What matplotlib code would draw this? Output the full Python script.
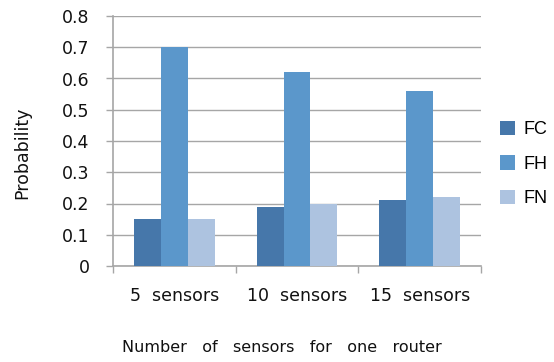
import numpy as np
import matplotlib.pyplot as plt

# --- DATA ---
categories = ['5  sensors', '10  sensors', '15  sensors']
series_names = ['FC', 'FH', 'FN']
fc_values = [0.15, 0.19, 0.21]
fh_values = [0.70, 0.62, 0.56]
fn_values = [0.15, 0.20, 0.22]

COLORS = ['#4677AA', '#5B97CB', '#ADC3E0']
GRID_COLOR = '#A6A6A6'

fig = plt.figure(figsize=(5.54, 3.62), dpi=100)
ax = fig.add_axes([113 / 554, 1 - 266 / 362, 368 / 554, 250 / 362])

x = np.arange(len(categories))
bar_w = 0.22
for i, (vals, name) in enumerate(zip([fc_values, fh_values, fn_values], series_names)):
    ax.bar(x + (i - 1) * bar_w, vals, width=bar_w, color=COLORS[i], label=name,
           zorder=3, linewidth=0)

ax.set_xlim(-0.5, len(categories) - 0.5)
ax.set_ylim(0, 0.8)
ax.set_yticks(np.arange(0, 0.81, 0.1))
ax.set_yticklabels(['0'] + [f'{v:.1f}' for v in np.arange(0.1, 0.81, 0.1)])
ax.yaxis.grid(True, color=GRID_COLOR, linewidth=1.0, zorder=0)

# category labels in the middle, tick marks on the category boundaries
ax.set_xticks(x)
ax.set_xticklabels(categories)
ax.set_xticks(np.arange(-0.5, len(categories), 1.0), minor=True)
ax.tick_params(axis='x', which='major', length=0, pad=15, labelsize=12.5, labelcolor='#111111')
ax.tick_params(axis='x', which='minor', length=5, width=1, color=GRID_COLOR, direction='out')
ax.tick_params(axis='y', length=5, width=1, color=GRID_COLOR, pad=12, labelsize=12.5, labelcolor='#111111')

for side in ['top', 'right']:
    ax.spines[side].set_visible(False)
for side in ['left', 'bottom']:
    ax.spines[side].set_color(GRID_COLOR)
    ax.spines[side].set_linewidth(1.2)

fig.text(22 / 554, 1 - 153 / 362, 'Probability', rotation=90, ha='center', va='center',
         fontsize=12.5, color='#111111')
fig.text(282 / 554, 1 - 348 / 362, 'Number   of   sensors   for   one   router', ha='center',
         va='center', fontsize=11.5, color='#111111')

fig.legend(loc='center left', bbox_to_anchor=(500 / 554, 1 - 164 / 362), frameon=False,
           borderaxespad=0, borderpad=0,
           handlelength=0.85, handleheight=0.85, handletextpad=0.45, labelspacing=0.95,
           prop={'family': 'Liberation Sans', 'size': 13})

fig.savefig('out.png', dpi=100)
